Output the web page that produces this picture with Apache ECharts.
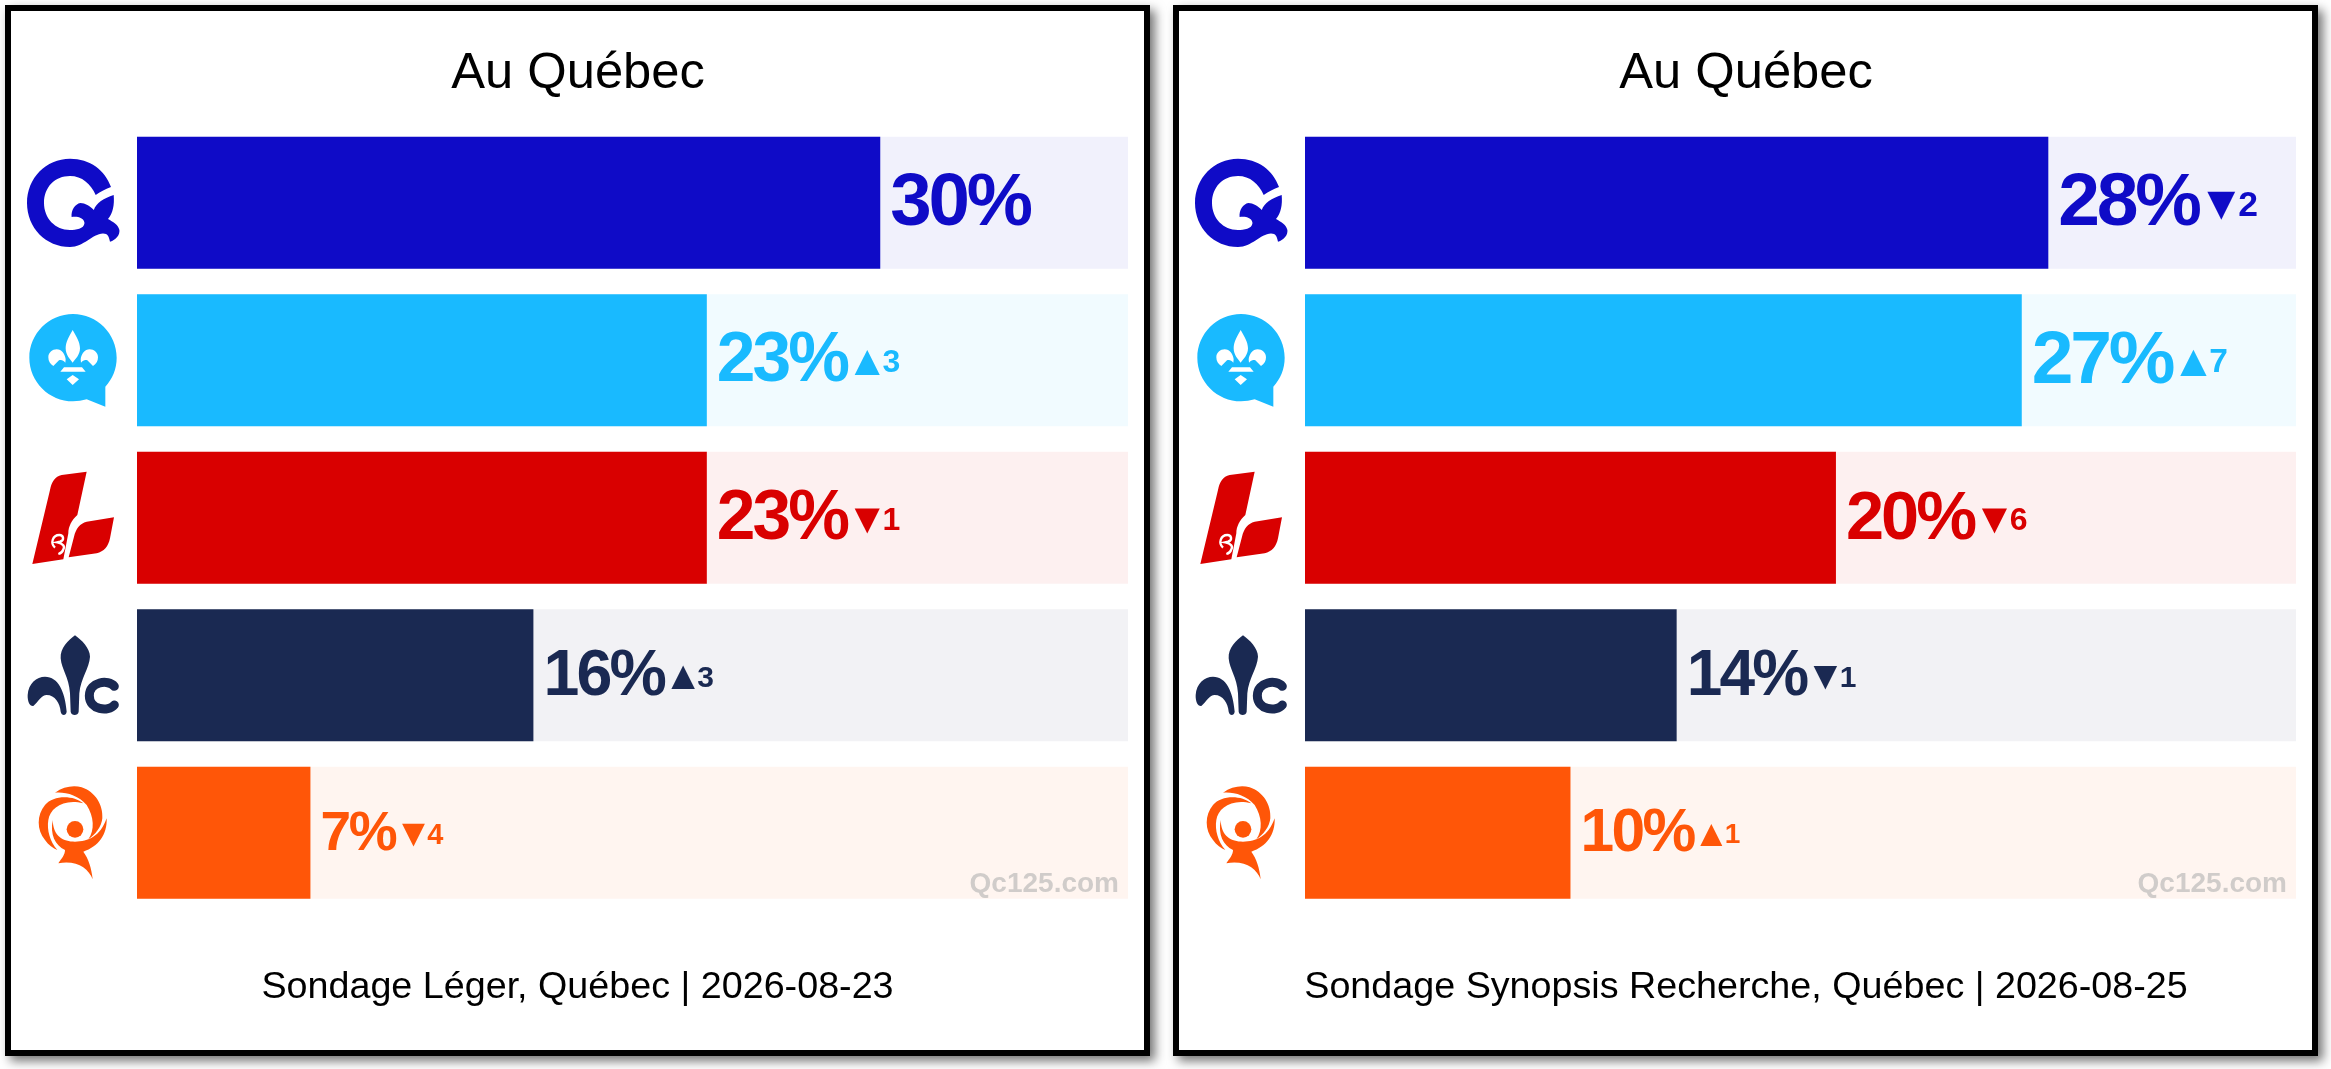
<!DOCTYPE html>
<html><head><meta charset="utf-8">
<style>html,body{margin:0;padding:0;background:#fff}#c{width:2331px;height:1069px}</style>
<script src="https://cdn.jsdelivr.net/npm/echarts@6/dist/echarts.min.js"></script>
</head><body><div id="c"></div>
<script>
// ---- data ----
const parties = ['PQ', 'CAQ', 'PLQ', 'PCQ', 'QS'];
const partyColors = ['#0F0BC7', '#19BAFF', '#D90000', '#1A2952', '#FF5608'];
const panelTitle = 'Au Québec';
const valuesLeger = [30, 23, 23, 16, 7];
const deltasLeger = [null, 3, -1, 3, -4];
const valuesSynopsis = [28, 27, 20, 14, 10];
const deltasSynopsis = [-2, 7, -6, -1, 1];
const axisMaxLeger = 40;
const axisMaxSynopsis = 37.33;
const footerLeger = 'Sondage Léger, Québec | 2026-08-23';
const footerSynopsis = 'Sondage Synopsis Recherche, Québec | 2026-08-25';
const watermark = 'Qc125.com';
// label type sizes, row by row
const valueSizesLeger = [74.5, 69.5, 69.5, 64.5, 55];
const deltaSizesLeger = [36, 32, 32, 30, 29];
const valueSizesSynopsis = [75, 75, 68.5, 64, 60.5];
const deltaSizesSynopsis = [35.5, 33.5, 32, 30, 28];

// tight tracking of the big percentage labels
const TRACK = 3 / 70;
const origFill = CanvasRenderingContext2D.prototype.fillText;
CanvasRenderingContext2D.prototype.fillText = function (t, x, y, m) {
  const match = /bold ([\d.]+)px/.exec(this.font);
  const big = match && parseFloat(match[1]) >= 50;
  if (big) this.letterSpacing = (-parseFloat(match[1]) * TRACK).toFixed(2) + 'px';
  const r = m === undefined ? origFill.call(this, t, x, y) : origFill.call(this, t, x, y, m);
  if (big) this.letterSpacing = '0px';
  return r;
};

const FONT = '"Liberation Sans", Arial, sans-serif';
const chart = echarts.init(document.getElementById('c'), null, { renderer: 'canvas' });

function barSeries(idx, values, deltas, axisMax, vSizes, dSizes) {
  const rich = {};
  values.forEach((v, i) => {
    const n = String(v).length, vs = vSizes[i], ds = dSizes[i], ts = ds * 1.34;
    rich['v' + i] = { fontFamily: FONT, fontWeight: 'bold', fontSize: vs, lineHeight: 84, padding: [0, 0, 2, 0],
      width: vs * (0.556 * n + 0.889) - vs * TRACK * (n + 1) - 1 };
    rich['a' + i] = { fontFamily: FONT, fontSize: ts, lineHeight: 84, width: ts * 0.85 };
    rich['d' + i] = { fontFamily: FONT, fontWeight: 'bold', fontSize: ds, lineHeight: 84 };
  });
  return [{
    type: 'bar', xAxisIndex: idx, yAxisIndex: idx, barWidth: 132, barGap: '-100%', silent: true, z: 1,
    data: parties.map((p, i) => ({ value: axisMax, itemStyle: { color: partyColors[i], opacity: 0.06 } })),
    label: { show: false }
  }, {
    type: 'bar', xAxisIndex: idx, yAxisIndex: idx, barWidth: 132, barGap: '-100%', silent: true, z: 2,
    data: values.map((v, i) => ({ value: v, itemStyle: { color: partyColors[i] }, label: { color: partyColors[i] } })),
    label: {
      show: true, position: 'right', distance: 10, offset: [0, 3], fontFamily: FONT,
      formatter: p => {
        const i = p.dataIndex, d = deltas[i];
        const s = '{v' + i + '|' + p.value + '%}';
        if (d === null) return s;
        return s + '{a' + i + '|' + (d > 0 ? '▲' : '▼') + '}{d' + i + '|' + Math.abs(d) + '}';
      },
      rich
    }
  }];
}

const P = {
  q: 'M111 187C105 170 90 158.7 70 158.7C46 158.7 27 178 27 203C27 228 46 247 70 247C84 247 92 234 103 233.5C108 233.5 109 237 110 241.7C116 240 120 235 119.4 230C118 224 113 222 108 219C113 213 114.5 205 113.7 195C104 198 96 203 93.8 210C90 206 85 203 80.4 203C75 204 71 210 71.6 217C76 216 84 217 84.5 223C84 229 76 230 70 230C55 230 44 218 44 203C44 187 55 176 70 176C82 176 91 184 95.7 195C100 192 105 189 111 187Z',
  bubble: 'M219 102C147 102 88 161 88 233C88 305 147 364 219 364C233 364 247 362 260 358L316 380L316 320C337 297 350 267 350 233C350 161 291 102 219 102Z',
  fleur: 'M218 150C208 168 197 185 197 205C197 225 210 238 218 248C226 238 240 225 240 205C240 185 228 168 218 150ZM145 232C145 218 157 208 170 208C185 208 195 222 197 238L196 248C190 240 183 238 177 241L160 258C150 252 145 244 145 232ZM294 232C294 218 282 208 269 208C254 208 244 222 242 238L243 248C249 240 256 238 262 241L279 258C289 252 294 244 294 232ZM192 262L246 262L257 275L181 275ZM218 285L237 298L218 315L200 298Z',
  lMain: 'M260 575L185 585C165 590 155 605 150 630L97 852L190 838L205 760C205 740 215 720 232 705Z',
  lLeaf: 'M342 712L260 725C240 730 228 745 222 770L206 832L290 820C312 815 325 800 330 775Z',
  lCut: 'M165 803C150 790 158 765 178 765C190 765 195 780 180 785L172 787C190 790 195 800 190 808C188 815 182 820 175 822',
  pcqC: 'M225 166C205 180 180 205 182 235C185 270 207 290 210 340L212 395C214 408 234 408 236 395L238 340C242 295 268 265 270 230C270 205 245 180 225 166ZM83 345C85 310 110 290 135 290C175 290 195 335 200 395C198 408 185 408 182 395C180 370 165 345 140 345C125 345 115 365 100 378C90 380 82 365 83 345Z',
  pcqArc: 'M343 319C325 297 268 305 268 347C268 390 325 397 343 375',
  qs1: 'M105 38C130 20 160 15 185 22C225 35 250 75 247 115C245 140 225 165 205 178C225 150 222 110 200 75C175 45 135 35 105 38Z',
  qs2: 'M190 70C160 45 100 45 75 75C50 105 50 150 75 180C85 195 100 205 112 210C90 185 80 150 85 120C90 85 130 55 190 70Z',
  qsBody: 'M98 120C100 170 130 185 165 185C205 185 240 170 260 115C262 165 235 200 190 215C205 235 215 265 218 298C205 265 170 240 115 250C125 235 135 225 135 210C105 195 90 165 98 120Z'
};
Object.keys(P).forEach(k => echarts.graphic.registerShape('logo_' + k, echarts.graphic.extendPath(P[k], {})));

function path(k, fill) { return { type: 'logo_' + k, style: { fill } }; }

function logos(dx) {
  const g = (x, y, children, s) => ({ type: 'group', x: x + dx, y, scaleX: s || 1 / 3, scaleY: s || 1 / 3, children });
  return [
    g(0, 0, [path('q', partyColors[0])], 1),
    g(0, 280, [path('bubble', partyColors[1]), path('fleur', '#fff')]),
    g(0, 280, [path('lMain', partyColors[2]), path('lLeaf', partyColors[2]),
      { type: 'logo_lCut', style: { fill: 'none', stroke: '#fff', lineWidth: 7 } }]),
    g(0, 580, [path('pcqC', partyColors[3]),
      { type: 'logo_pcqArc', style: { fill: 'none', stroke: partyColors[3], lineWidth: 27, lineCap: 'round' } }]),
    g(20, 780, [path('qs1', partyColors[4]), path('qs2', partyColors[4]), path('qsBody', partyColors[4]),
      { type: 'circle', shape: { cx: 165, cy: 148, r: 25 }, style: { fill: partyColors[4] } }])
  ];
}

function frame(x, w) {
  return [
    { type: 'rect', z: -10, silent: true, shape: { x, y: 5, width: w, height: 1051 },
      style: { fill: '#000', shadowBlur: 10, shadowOffsetX: 5, shadowOffsetY: 5, shadowColor: 'rgba(0,0,0,0.55)' } },
    { type: 'rect', z: -9, silent: true, shape: { x: x + 6, y: 11, width: w - 12, height: 1039 }, style: { fill: '#fff' } }
  ];
}

function wm(dx) {
  return { type: 'text', z: 20, silent: true, x: 1119 + dx, y: 898,
    style: { text: watermark, font: 'bold 28px ' + FONT, fill: 'rgba(150,155,155,0.45)', textAlign: 'right', textVerticalAlign: 'bottom' } };
}

const tStyle = size => ({ fontFamily: FONT, fontSize: size, fontWeight: 'normal', color: '#000' });
chart.setOption({
  animation: false,
  backgroundColor: '#fff',
  title: [
    { text: panelTitle, left: 578, top: 49, padding: 0, textAlign: 'center', textStyle: tStyle(50.7) },
    { text: panelTitle, left: 1746, top: 49, padding: 0, textAlign: 'center', textStyle: tStyle(50.7) },
    { text: footerLeger, left: 577.5, top: 969, padding: 0, textAlign: 'center', textStyle: tStyle(37.7) },
    { text: footerSynopsis, left: 1746, top: 969, padding: 0, textAlign: 'center', textStyle: tStyle(37.7) }
  ],
  grid: [
    { left: 137, top: 124, width: 991, height: 787.5, containLabel: false },
    { left: 1305, top: 124, width: 991, height: 787.5, containLabel: false }
  ],
  xAxis: [
    { gridIndex: 0, type: 'value', min: 0, max: axisMaxLeger, show: false },
    { gridIndex: 1, type: 'value', min: 0, max: axisMaxSynopsis, show: false }
  ],
  yAxis: [
    { gridIndex: 0, type: 'category', inverse: true, data: parties, show: false },
    { gridIndex: 1, type: 'category', inverse: true, data: parties, show: false }
  ],
  series: [...barSeries(0, valuesLeger, deltasLeger, axisMaxLeger, valueSizesLeger, deltaSizesLeger),
           ...barSeries(1, valuesSynopsis, deltasSynopsis, axisMaxSynopsis, valueSizesSynopsis, deltaSizesSynopsis)],
  graphic: { elements: [...frame(5, 1145), ...frame(1173, 1145), ...logos(0), ...logos(1168), wm(0), wm(1168)] }
});
</script></body></html>
